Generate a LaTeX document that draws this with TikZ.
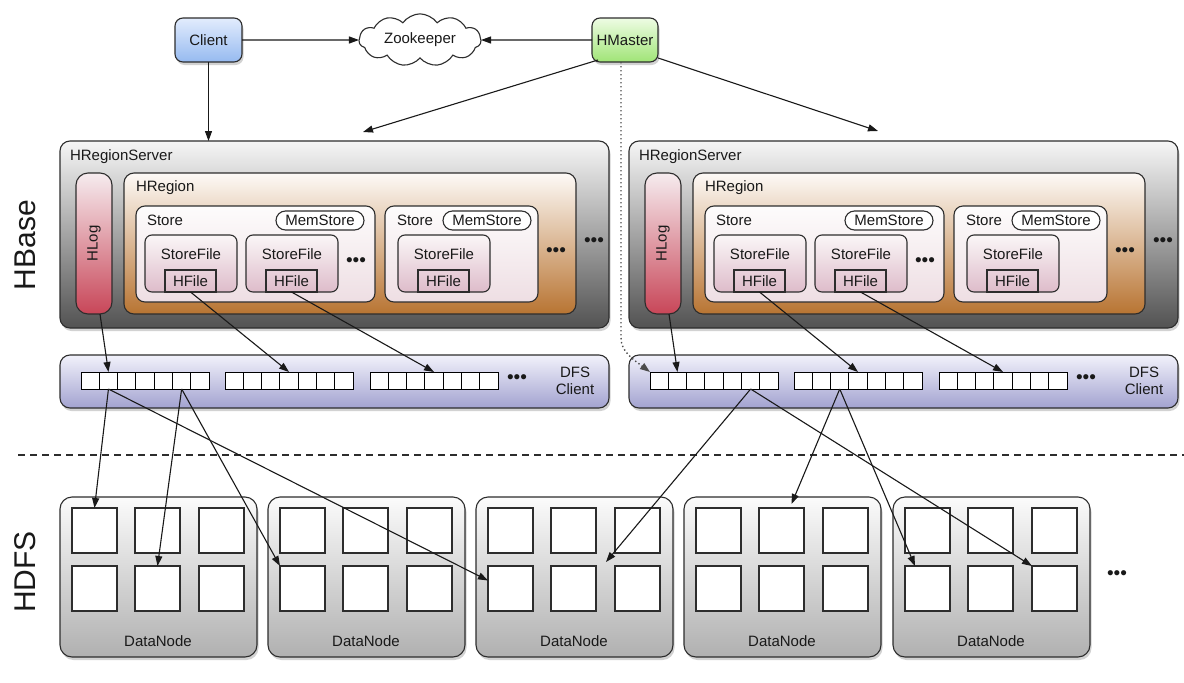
\documentclass[tikz,border=0pt]{standalone}
\usepackage{fontspec}
\setmainfont{Liberation Sans}
\usetikzlibrary{arrows.meta,shapes.symbols,shadows,calc}
\definecolor{edge}{RGB}{45,45,45}
\definecolor{srvT}{RGB}{246,246,246}
\definecolor{srvM}{RGB}{200,200,200}
\definecolor{srvB}{RGB}{82,82,82}
\definecolor{hregT}{RGB}{253,250,247}
\definecolor{hregM}{RGB}{234,204,172}
\definecolor{hregB}{RGB}{184,116,50}
\definecolor{hlogT}{RGB}{246,236,239}
\definecolor{hlogM}{RGB}{228,168,178}
\definecolor{hlogB}{RGB}{200,70,88}
\definecolor{stT}{RGB}{253,252,252}
\definecolor{stB}{RGB}{238,222,227}
\definecolor{sfT}{RGB}{250,246,247}
\definecolor{sfB}{RGB}{222,188,202}
\definecolor{dfsT}{RGB}{242,242,251}
\definecolor{dfsM}{RGB}{214,214,236}
\definecolor{dfsB}{RGB}{162,162,208}
\definecolor{dnT}{RGB}{251,251,251}
\definecolor{dnM}{RGB}{226,226,226}
\definecolor{dnB}{RGB}{176,176,176}
\definecolor{clT}{RGB}{226,236,253}
\definecolor{clB}{RGB}{150,186,240}
\definecolor{hmT}{RGB}{238,252,228}
\definecolor{hmB}{RGB}{160,228,118}
\begin{document}
\begin{tikzpicture}[x=1pt,y=-1pt,
  every node/.style={font=\fontsize{15}{17}\selectfont, inner sep=0pt, outer sep=0pt, text=black!90},
  sh/.style={drop shadow={shadow xshift=1.5pt, shadow yshift=-3pt, opacity=.35}},
  nw/.style={anchor=north west, draw=edge, line width=1.1pt},
  clientbox/.style={nw, rounded corners=8pt, minimum width=67pt, minimum height=44pt, top color=clT, bottom color=clB, sh},
  masterbox/.style={nw, rounded corners=8pt, minimum width=66pt, minimum height=44pt, top color=hmT, bottom color=hmB, sh},
  srvbox/.style={nw, rounded corners=10pt, minimum width=549pt, minimum height=187pt, top color=srvT, middle color=srvM, bottom color=srvB, sh},
  hlogbox/.style={nw, rounded corners=12pt, minimum width=36pt, minimum height=141pt, top color=hlogT, middle color=hlogM, bottom color=hlogB},
  hregbox/.style={nw, rounded corners=10pt, minimum width=452pt, minimum height=141pt, top color=hregT, middle color=hregM, bottom color=hregB},
  storebox/.style={nw, rounded corners=9pt, minimum height=96pt, top color=stT, bottom color=stB},
  membox/.style={nw, rounded corners=9.5pt, minimum width=88pt, minimum height=19pt, fill=white},
  sfbox/.style={nw, rounded corners=7pt, minimum width=92pt, minimum height=57pt, top color=sfT, bottom color=sfB},
  hfbox/.style={nw, minimum width=51pt, minimum height=22pt},
  dfsbox/.style={nw, rounded corners=10pt, minimum width=549pt, minimum height=53pt, top color=dfsT, middle color=dfsM, bottom color=dfsB, sh},
  cellbox/.style={nw, draw=black, line width=1pt, fill=white, minimum width=18.3pt, minimum height=17pt},
  dnbox/.style={nw, rounded corners=12pt, minimum width=197pt, minimum height=160pt, top color=dnT, middle color=dnM, bottom color=dnB, sh},
  dncell/.style={nw, draw=edge, line width=1.1pt, fill=white, minimum width=45pt, minimum height=45pt},
  ell/.style={font=\fontsize{19}{19}\selectfont},
  big/.style={font=\fontsize{30}{32}\selectfont, rotate=90},
  arr/.style={draw=black!90, line width=1.1pt, -{Triangle[length=10pt,width=7pt]}},
]
\useasboundingbox (0,0) rectangle (1184,683);
\fill[white] (0,0) rectangle (1184,683);

% top row
\node[clientbox] (client) at (175,18) {Client};
\node[masterbox] (hm) at (592,18) {HMaster};
\node[cloud, draw=edge, line width=1.1pt, fill=white, cloud puffs=11, cloud puff arc=110, aspect=2.6, minimum width=122pt, minimum height=46pt] (zk) at (420,40) {Zookeeper};

% labels
\node[big] (hbase) at (25,245) {HBase};
\node[big] (hdfs) at (25,572) {HDFS};

% region servers and DFS clients
\foreach \s/\o in {L/0,R/569}{
  \node[srvbox] (srv\s) at (60+\o,141) {};
  \node[anchor=west] (srvt\s) at (70+\o,157) {HRegionServer};
  \node[hlogbox] (hlog\s) at (76+\o,173) {};
  \node[rotate=90] (hlogt\s) at (hlog\s) {HLog};
  \node[hregbox] (hreg\s) at (124+\o,173) {};
  \node[anchor=west] (hregt\s) at (136+\o,188) {HRegion};
  \node[storebox, minimum width=239pt] (sta\s) at (136+\o,206) {};
  \node[anchor=west] (stat\s) at (147+\o,220) {Store};
  \node[membox] (mema\s) at (276+\o,211) {MemStore};
  \node[sfbox] (sfa\s) at (145+\o,235) {};
  \node (sfat\s) at (191+\o,254) {StoreFile};
  \node[hfbox] (hfa\s) at (165+\o,270) {HFile};
  \node[sfbox] (sfb\s) at (246+\o,235) {};
  \node (sfbt\s) at (292+\o,254) {StoreFile};
  \node[hfbox] (hfb\s) at (266+\o,270) {HFile};
  \node[ell] (ea\s) at (356+\o,262) {•••};
  \node[storebox, minimum width=153pt] (stb\s) at (385+\o,206) {};
  \node[anchor=west] (stbt\s) at (397+\o,220) {Store};
  \node[membox] (memb\s) at (443+\o,211) {MemStore};
  \node[sfbox] (sfc\s) at (398+\o,235) {};
  \node (sfct\s) at (444+\o,254) {StoreFile};
  \node[hfbox] (hfc\s) at (418+\o,270) {HFile};
  \node[ell] (eb\s) at (556+\o,252) {•••};
  \node[ell] (ec\s) at (594+\o,242) {•••};
  % DFS client
  \node[dfsbox] (dfs\s) at (60+\o,355) {};
  \foreach \g/\gx in {1/81,2/225,3/370}{
    \foreach \k in {1,...,7}{
      \node[cellbox] (c\s-\g-\k) at (\gx+\o+18.3*\k-18.3,372) {};
    }
  }
  \node[ell] (ed\s) at (517+\o,379) {•••};
  \node[align=center, font=\fontsize{15}{17}\selectfont] (dfst\s) at (575+\o,381) {DFS\\Client};
}

% data nodes
\foreach \d/\dx in {1/60,2/268,3/476,4/684,5/893}{
  \node[dnbox] (dn\d) at (\dx,497) {};
  \node (dnt\d) at (\dx+98,641) {DataNode};
  \foreach \r/\ry in {1/508,2/566}{
    \foreach \c/\cx in {1/12,2/75,3/139}{
      \node[dncell] (dn\d-\r-\c) at (\dx+\cx,\ry) {};
    }
  }
}
\node[ell] (edn) at (1117,575) {•••};

% separator
\draw[edge, line width=1.2pt, dash pattern=on 7pt off 5pt] (18,455) -- (1184,455);

% top connectors
\coordinate (inL) at (363,132);
\coordinate (inR) at (878,131);
\coordinate (hmd) at (621,62);
\draw[arr] (client.east) -- (zk.west);
\draw[arr] (hm.west) -- (zk.east);
\draw[arr] (client.south) -- (client.south |- srvL.north);
\draw[arr] ([xshift=6pt,yshift=2pt]hm.south west) -- (inL);
\draw[arr] ([yshift=4pt]hm.south east) -- (inR);
\draw[black!70, line width=1.4pt, dash pattern=on 1.4pt off 2.6pt, -{Triangle[length=10pt,width=7pt]}] (hmd) -- (621,338) .. controls (621,352) and (634,360) .. (cR-1-1.north west);

% HBase -> DFS client
\foreach \s in {L,R}{
  \draw[arr] ([xshift=6pt]hlog\s.south) -- (c\s-1-2.north);
  \draw[arr] (hfa\s.south) -- (c\s-2-4.north);
  \draw[arr] (hfb\s.south) -- (c\s-3-4.north);
}

% DFS client -> DataNodes
\draw[arr] (cL-1-2.south) -- (dn1-1-1.north);
\draw[arr] (cL-1-2.south) -- ([yshift=8pt]dn3-2-1.west);
\draw[arr] (cL-1-6.south) -- (dn1-2-2.north);
\draw[arr] (cL-1-6.south) -- (dn2-2-1.north west);
\draw[arr] (cR-1-6.south) -- ([xshift=-9pt,yshift=4pt]dn3-2-3.north west);
\draw[arr] (cR-1-6.south) -- (dn5-2-3.north west);
\draw[arr] (cR-2-3.south) -- ([xshift=10pt,yshift=4pt]dn4-1-2.north);
\draw[arr] (cR-2-3.south) -- ([xshift=10pt]dn5-2-1.north west);
\end{tikzpicture}
\end{document}
